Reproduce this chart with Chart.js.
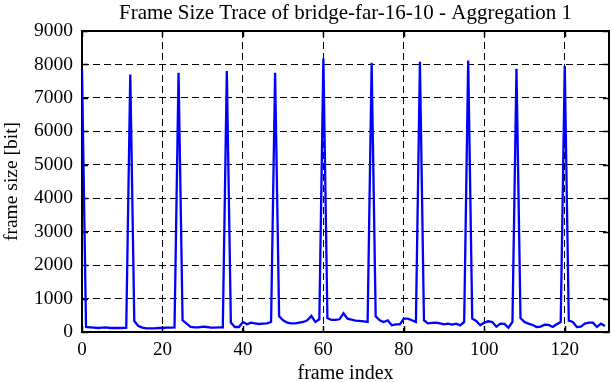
<!DOCTYPE html>
<html>
<head>
<meta charset="utf-8">
<script src="https://cdn.jsdelivr.net/npm/chart.js@4/dist/chart.umd.min.js"></script>
<style>
  html, body { margin: 0; padding: 0; background: #fff; }
  #wrap { width: 612px; height: 382px; }
</style>
</head>
<body>
<div id="wrap"><canvas id="c" width="612" height="382"></canvas></div>
<script>
const chartTitle = "Frame Size Trace of bridge-far-16-10 - Aggregation 1";
const xTitle = "frame index";
const yTitle = "frame size [bit]";

const frameIndex = [
  0,1,2,3,4,5,6,7,8,9,10,11,12,13,14,15,16,17,18,19,20,21,22,23,24,25,26,27,28,29,
  30,31,32,33,34,35,36,37,38,39,40,41,42,43,44,45,46,47,48,49,50,51,52,53,54,55,56,57,58,59,
  60,61,62,63,64,65,66,67,68,69,70,71,72,73,74,75,76,77,78,79,80,81,82,83,84,85,86,87,88,89,
  90,91,92,93,94,95,96,97,98,99,100,101,102,103,104,105,106,107,108,109,110,111,112,113,114,115,116,117,118,119,
  120,121,122,123,124,125,126,127,128,129,130
];

const frameSize = [
  7850,150,140,130,120,130,140,120,120,120,120,130,7700,330,180,130,110,110,110,120,120,130,130,140,7750,350,250,150,140,140,
  160,150,130,130,140,140,7800,280,150,150,300,230,280,260,240,250,260,300,7750,470,350,280,260,260,280,300,350,480,300,380,
  8180,420,360,360,380,560,400,370,340,330,320,300,8050,470,350,300,350,200,230,230,400,400,350,300,8080,350,260,270,280,260,
  230,250,220,250,200,300,8120,400,330,200,280,320,300,160,250,240,130,300,7870,420,300,250,210,150,160,220,210,150,230,300,
  7950,340,300,150,160,250,280,280,150,250,180
];

const xTicks = [0, 20, 40, 60, 80, 100, 120];
const yTicks = [0, 1000, 2000, 3000, 4000, 5000, 6000, 7000, 8000, 9000];
const xRange = [0, 131];
const yRange = [0, 9000];

const points = frameIndex.map((x, i) => ({ x: x, y: frameSize[i] }));

const FONT = "'Liberation Serif', 'Times New Roman', serif";

const frameBox = {
  id: 'frameBox',
  beforeDatasetsDraw(chart) {
    const { ctx, chartArea: a, scales } = chart;
    ctx.save();
    ctx.strokeStyle = '#000';
    ctx.lineWidth = 1.5;
    const tl = 6;
    ctx.beginPath();
    xTicks.forEach(v => {
      const px = Math.round(scales.x.getPixelForValue(v)) + 0.5;
      ctx.moveTo(px, a.bottom); ctx.lineTo(px, a.bottom - tl);
      ctx.moveTo(px, a.top); ctx.lineTo(px, a.top + tl);
    });
    yTicks.forEach(v => {
      const py = Math.round(scales.y.getPixelForValue(v)) + 0.5;
      ctx.moveTo(a.left, py); ctx.lineTo(a.left + tl, py);
      ctx.moveTo(a.right, py); ctx.lineTo(a.right - tl, py);
    });
    ctx.stroke();
    ctx.lineWidth = 2;
    ctx.strokeRect(a.left, a.top, a.right - a.left, a.bottom - a.top);
    ctx.restore();
  }
};

new Chart(document.getElementById('c'), {
  type: 'line',
  data: {
    datasets: [{
      data: points,
      borderColor: '#0000ff',
      borderWidth: 2.3,
      pointRadius: 0,
      tension: 0,
      fill: false
    }]
  },
  options: {
    responsive: false,
    animation: false,
    layout: { padding: { top: 0, right: 3, left: 0, bottom: 0 } },
    plugins: {
      legend: { display: false },
      tooltip: { enabled: false },
      title: {
        display: true,
        fullSize: false,
        text: chartTitle,
        color: '#000',
        font: { family: FONT, size: 21, weight: 'normal' },
        padding: { top: 1, bottom: 4.8 }
      }
    },
    scales: {
      x: {
        type: 'linear',
        min: xRange[0],
        max: xRange[1],
        afterBuildTicks: s => { s.ticks = xTicks.map(v => ({ value: v })); },
        afterFit: s => { s.height = 50; },
        grid: { color: '#000', lineWidth: 1, drawTicks: false },
        border: { display: false, dash: [7, 4] },
        ticks: { color: '#000', font: { family: FONT, size: 19 }, padding: 7, maxRotation: 0,
                 callback: v => String(v) },
        title: { display: true, text: xTitle, color: '#000', font: { family: FONT, size: 20 }, padding: { top: 0, bottom: -4 } }
      },
      y: {
        type: 'linear',
        min: yRange[0],
        max: yRange[1],
        afterBuildTicks: s => { s.ticks = yTicks.map(v => ({ value: v })); },
        afterFit: s => { s.width = 82; },
        grid: { color: '#000', lineWidth: 1, drawTicks: false },
        border: { display: false, dash: [7, 4] },
        ticks: { color: '#000', font: { family: FONT, size: 19.5 }, padding: 9,
                 callback: v => String(v) },
        title: { display: true, text: yTitle, color: '#000', font: { family: FONT, size: 19.5 }, padding: { top: 0, bottom: 0 } }
      }
    }
  },
  plugins: [frameBox]
});
</script>
</body>
</html>
